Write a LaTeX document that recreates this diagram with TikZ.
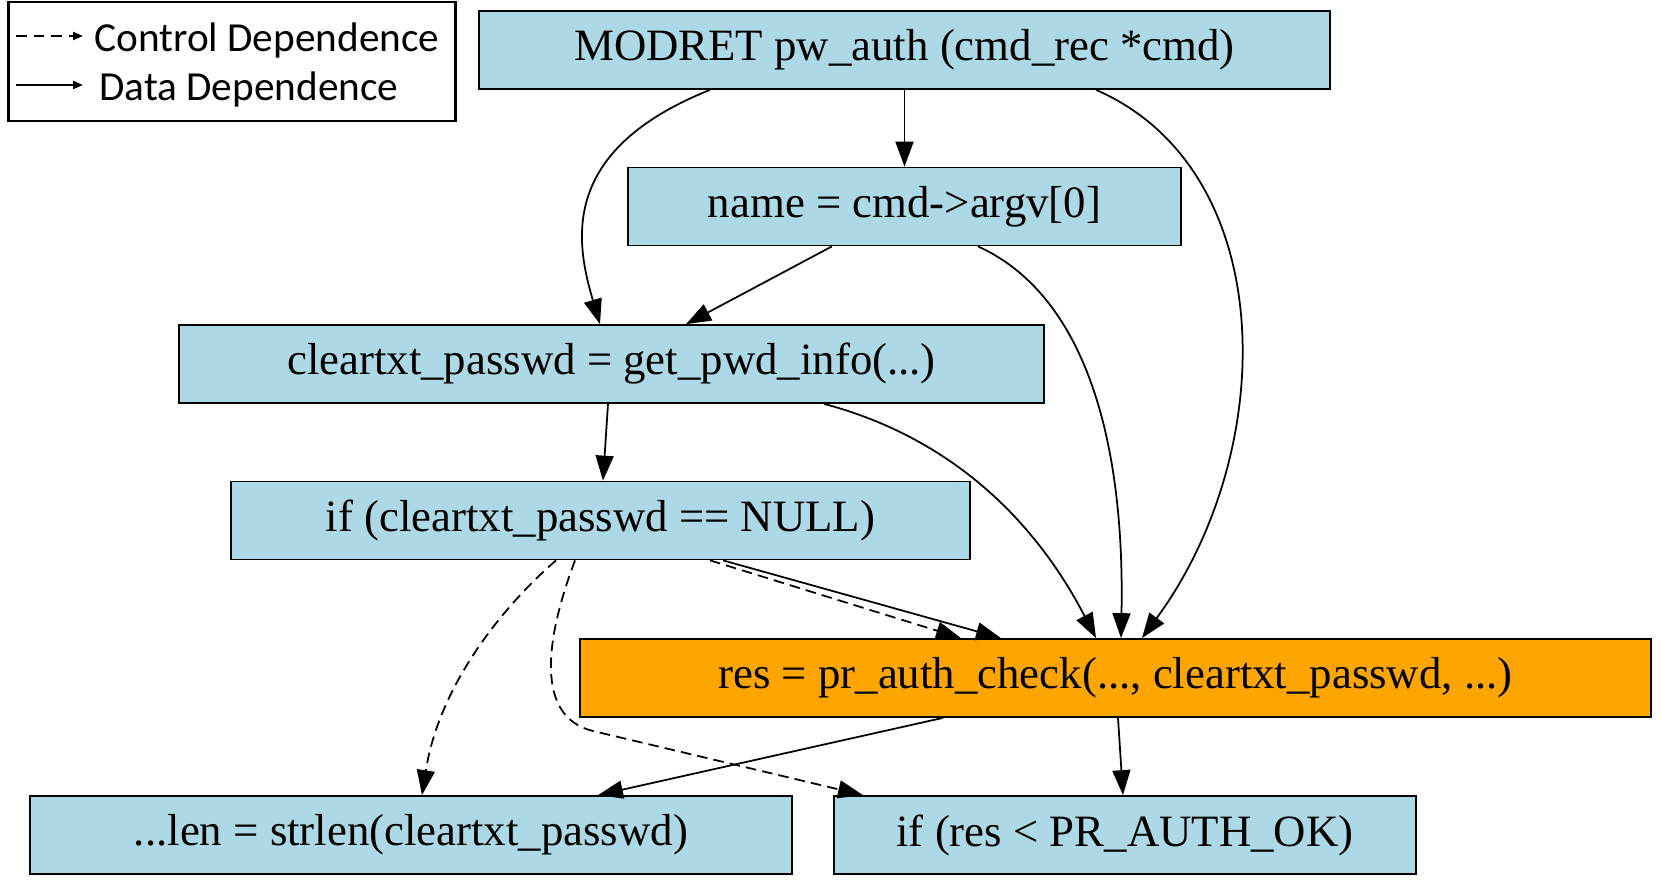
\documentclass[tikz,border=0pt]{standalone}
\usepackage{fontspec}
\setmainfont{Liberation Serif}
\newfontfamily\legendfont{Carlito}
\usetikzlibrary{arrows.meta,positioning,calc}
\definecolor{stmtblue}{RGB}{173,216,230}
\definecolor{sinkorange}{RGB}{255,165,0}

\begin{document}
\begin{tikzpicture}[
    x=0.02cm, y=-0.02cm,
    stmt/.style={rectangle, draw=black, line width=1pt, fill=stmtblue, minimum height=1.56cm, inner sep=0pt, font=\fontsize{25.5}{30}\selectfont},
    sink/.style={stmt, fill=sinkorange},
    data/.style={line width=1pt, -{Triangle[length=0.5cm, width=0.36cm]}},
    ctrl/.style={data, dash pattern=on 6pt off 3.5pt},
    legendtext/.style={font=\legendfont\fontsize{23.5}{28}\selectfont, anchor=west, inner sep=0pt},
    legendline/.style={line width=1.1pt, -{Triangle[length=0.2cm, width=0.16cm]}}
]
\useasboundingbox (0,0) rectangle (1661,885);

% Legend
\node[draw, line width=1.3pt, minimum width=8.94cm, minimum height=2.38cm] (legend) at (232,61.5) {};
\node[legendtext] (ctrltxt) at (94,40) {Control Dependence};
\node[legendtext] (datatxt) at (99,89) {Data Dependence};
\coordinate (ctrlfrom) at (16,36);
\coordinate (ctrlto) at (83,36);
\coordinate (datafrom) at (16,85);
\coordinate (datato) at (83,85);
\draw[legendline, dash pattern=on 6pt off 4pt] (ctrlfrom) -- (ctrlto);
\draw[legendline] (datafrom) -- (datato);

% Statements
\node[stmt, minimum width=17.02cm] (A) at (904.5,50) {MODRET pw\_auth (cmd\_rec *cmd)};
\node[stmt, minimum width=11.06cm] (B) at (904.5,206.5) {name = cmd->argv[0]};
\node[stmt, minimum width=17.3cm] (C) at (611.5,364) {cleartxt\_passwd = get\_pwd\_info(...)};
\node[stmt, minimum width=14.78cm] (D) at (600.5,520.5) {if (cleartxt\_passwd == NULL)};
\node[sink, minimum width=21.42cm] (E) at (1115.5,678) {res = pr\_auth\_check(..., cleartxt\_passwd, ...)};
\node[stmt, minimum width=15.24cm] (F) at (411,835) {...len = strlen(cleartxt\_passwd)};
\node[stmt, minimum width=11.64cm] (G) at (1125,835) {if (res < PR\_AUTH\_OK)};

% From pw_auth
\draw[data] (A.south -| 710,0) .. controls (560,150) and (575,240) .. (C.north -| 600,0);
\draw[data] (A.south) -- (B.north);
\draw[data] (A.south -| 1096,0) .. controls (1280,170) and (1280,450) .. (E.north -| 1142,0);

% From name
\draw[data] (B.south -| 832,0) -- (C.north -| 686,0);
\draw[data] (B.south -| 978,0) .. controls (1085,295) and (1125,440) .. (E.north -| 1121,0);

% From get_pwd_info
\draw[data] (C.south -| 608,0) -- (D.north -| 603,0);
\draw[data] (C.south -| 824,0) .. controls (960,440) and (1040,530) .. (E.north -| 1096,0);

% From if NULL
\draw[ctrl] (D.south -| 710,0) -- (E.north -| 961,0);
\draw[data] (D.south -| 723,0) -- (E.north -| 1001,0);
\draw[ctrl] (D.south -| 556,0) .. controls (510,600) and (440,680) .. (F.north -| 422,0);
\draw[ctrl] (D.south -| 575,0) .. controls (545,640) and (535,717) .. (593,731) -- (G.north -| 863,0);

% From pr_auth_check
\draw[data] (E.south -| 943,0) -- (F.north -| 598,0);
\draw[data] (E.south -| 1118,0) -- (G.north -| 1123,0);

\end{tikzpicture}
\end{document}
